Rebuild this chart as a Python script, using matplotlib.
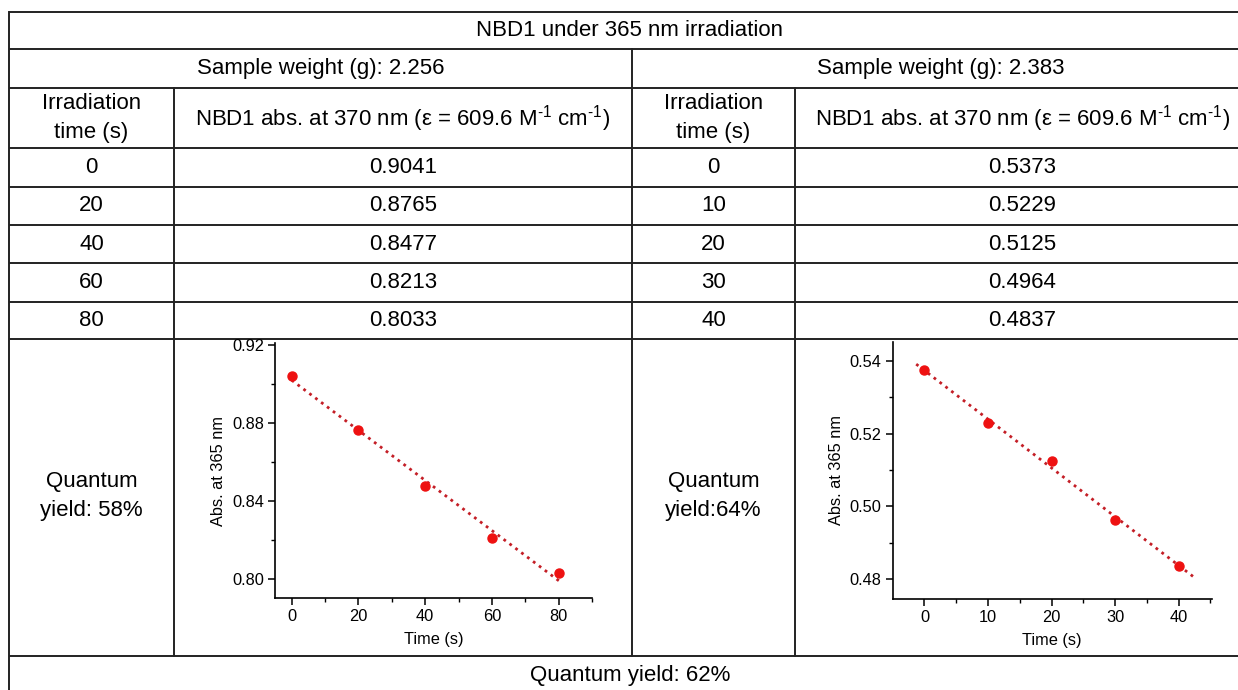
import numpy as np
import matplotlib
matplotlib.use("Agg")
from matplotlib import pyplot as plt

plt.rcParams["font.family"] = ["Liberation Sans", "DejaVu Sans"]
plt.rcParams["mathtext.fontset"] = "custom"
plt.rcParams["mathtext.rm"] = "Liberation Sans"
plt.rcParams["mathtext.it"] = "Liberation Sans:italic"

# data
title = "NBD1 under 365 nm irradiation"
weights = ["Sample weight (g): 2.256", "Sample weight (g): 2.383"]
time_header = "Irradiation\ntime (s)"
abs_header = r"NBD1 abs. at 370 nm (ε = 609.6 M$^{\text{-1}}$ cm$^{\text{-1}}$)"
time_a = [0, 20, 40, 60, 80]
abs_a = [0.9041, 0.8765, 0.8477, 0.8213, 0.8033]
time_b = [0, 10, 20, 30, 40]
abs_b = [0.5373, 0.5229, 0.5125, 0.4964, 0.4837]
qy_a = "Quantum\nyield: 58%"
qy_b = "Quantum\nyield:64%"
qy_total = "Quantum yield: 62%"

W, H = 1238, 690
fig = plt.figure(figsize=(W / 100, H / 100), dpi=100)
bg = fig.add_axes([0, 0, 1, 1])
bg.set_xlim(0, W)
bg.set_ylim(H, 0)
bg.axis("off")

# table grid (pixel coords)
x_left, x_right = 9, 1250
row_y = [12, 49, 88, 148.3, 186.7, 225, 263.3, 301.5, 338.5, 656, 700]
lc, lw = "#222222", 1.4
for y in row_y[:-1]:
    bg.plot([x_left, x_right], [y, y], color=lc, lw=lw, solid_capstyle="butt")
bg.plot([x_left, x_left], [row_y[0], H], color=lc, lw=lw)
bg.plot([632, 632], [row_y[1], row_y[9]], color=lc, lw=lw)
for cx in [174, 795]:
    bg.plot([cx, cx], [row_y[2], row_y[9]], color=lc, lw=lw)

fs = 16
def cell(x, y, s, **kw):
    bg.text(x, y, s, ha="center", va="center", fontsize=fs, color="black", **kw)

cell(630, (row_y[0] + row_y[1]) / 2, title)
cell((9 + 632) / 2, (row_y[1] + row_y[2]) / 2, weights[0])
cell((632 + 1250) / 2, (row_y[1] + row_y[2]) / 2, weights[1])
hy = (row_y[2] + row_y[3]) / 2
cell((9 + 174) / 2, hy, time_header, linespacing=1.5)
cell((174 + 632) / 2, hy, abs_header)
cell((632 + 795) / 2, hy, time_header, linespacing=1.5)
cell((795 + 1250) / 2, hy, abs_header)
for i in range(5):
    ry = (row_y[3 + i] + row_y[4 + i]) / 2
    cell((9 + 174) / 2, ry, str(time_a[i]))
    cell((174 + 632) / 2, ry, f"{abs_a[i]:.4f}")
    cell((632 + 795) / 2, ry, str(time_b[i]))
    cell((795 + 1250) / 2, ry, f"{abs_b[i]:.4f}")
cell((9 + 174) / 2, 496, qy_a, linespacing=1.45)
cell((632 + 795) / 2, 496, qy_b, linespacing=1.45)
cell(630, 676, qy_total)


def mini_plot(rect, t, a, xlim, ylim, xticks, yticks, yminor, fit_range):
    ax = fig.add_axes(rect)
    ax.plot(t, a, "o", color="#ee1111", ms=6.5, zorder=3)
    k, b = np.polyfit(t, a, 1)
    xf = np.array(fit_range)
    ax.plot(xf, k * xf + b, ":", color="#c41e26", lw=2)
    ax.set_xlim(*xlim)
    ax.set_ylim(*ylim)
    ax.set_xticks(xticks)
    ax.set_yticks(yticks)
    step = xticks[1] - xticks[0]
    ax.set_xticks([x + step / 2 for x in xticks], minor=True)
    ax.set_yticks(yminor, minor=True)
    ax.set_yticklabels([f"{y:.2f}" for y in yticks])
    for s in ["top", "right"]:
        ax.spines[s].set_visible(False)
    for s in ["left", "bottom"]:
        ax.spines[s].set_linewidth(1.2)
    ax.tick_params(which="major", length=5, width=1.1, labelsize=11.8, pad=3)
    ax.tick_params(which="minor", length=3, width=1.0)
    ax.set_xlabel("Time (s)", fontsize=11.8, labelpad=6)
    ax.set_ylabel("Abs. at 365 nm", fontsize=11.8, labelpad=4)
    ax.patch.set_alpha(0)
    return ax


mini_plot([275 / W, (H - 598) / H, 317 / W, 255 / H], time_a, abs_a,
          (-5, 90), (0.7903, 0.921), [0, 20, 40, 60, 80],
          [0.80, 0.84, 0.88, 0.92], [0.82, 0.86, 0.90], [0, 81])
mini_plot([892.7 / W, (H - 599) / H, 319 / W, 257.3 / H], time_b, abs_b,
          (-5, 45.2), (0.4746, 0.5452), [0, 10, 20, 30, 40],
          [0.48, 0.50, 0.52, 0.54], [0.49, 0.51, 0.53], [-1.3, 42.5])

fig.savefig("out.png", dpi=100)
